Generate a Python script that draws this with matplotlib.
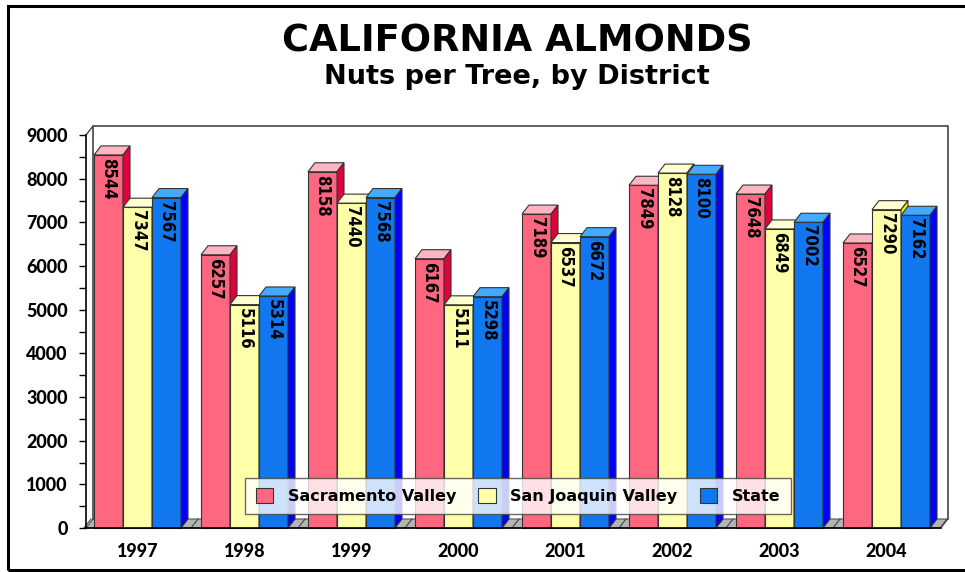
import numpy as np
import matplotlib
matplotlib.use("Agg")
import matplotlib.pyplot as plt
from matplotlib.patches import Polygon, Patch, Rectangle

# data
years = ["1997", "1998", "1999", "2000", "2001", "2002", "2003", "2004"]
sacramento = [8544, 6257, 8158, 6167, 7189, 7849, 7648, 6527]
san_joaquin = [7347, 5116, 7440, 5111, 6537, 8128, 6849, 7290]
state = [7567, 5314, 7568, 5298, 6672, 8100, 7002, 7162]
series_names = ["Sacramento Valley", "San Joaquin Valley", "State"]

# front / top / side shades for each series
palette = [
    ("#FF6680", "#FFB6C2", "#E0003C"),
    ("#FFFFAA", "#FFFFD2", "#F0F000"),
    ("#1177EE", "#44AAFF", "#0000FF"),
]
EDGE = "#333333"
FONT = ["Lato", "DejaVu Sans"]
WIDE = ["DejaVu Sans"]

W, H = 965, 572
BAR_W = 29 / 107
DEPTH_PX = (7, 9)


def draw_bar3d(ax, x, h, w, ddx, ddy, colors):
    front, top, side = colors
    ax.add_patch(Polygon([(x, 0), (x + w, 0), (x + w, h), (x, h)], closed=True,
                         facecolor=front, edgecolor=EDGE, lw=0.8, zorder=2, clip_on=False))
    ax.add_patch(Polygon([(x, h), (x + w, h), (x + w + ddx, h + ddy), (x + ddx, h + ddy)],
                         closed=True, facecolor=top, edgecolor=EDGE, lw=0.8, zorder=2, clip_on=False))
    ax.add_patch(Polygon([(x + w, 0), (x + w + ddx, ddy), (x + w + ddx, h + ddy), (x + w, h)],
                         closed=True, facecolor=side, edgecolor=EDGE, lw=0.8, zorder=2, clip_on=False))


def main():
    fig = plt.figure(figsize=(W / 100, H / 100), dpi=100)
    ax = fig.add_axes([86 / W, 1 - 528 / H, (941 - 86) / W, (528 - 135) / H])
    xmin, xmax = (86 - 137.5) / 107, (941 - 137.5) / 107
    ymax = 9000
    ax.set_xlim(xmin, xmax)
    ax.set_ylim(0, ymax)
    ax.patch.set_alpha(0)

    px_x = (xmax - xmin) / ax.bbox.width
    px_y = ymax / ax.bbox.height
    ddx, ddy = DEPTH_PX[0] * px_x, DEPTH_PX[1] * px_y

    # floor and back wall
    ax.add_patch(Polygon([(xmin, 0), (xmax, 0), (xmax + ddx, ddy), (xmin + ddx, ddy)],
                         closed=True, facecolor="#B4B4B4", edgecolor="#555555", lw=0.8,
                         zorder=1, clip_on=False))
    for b in np.arange(-0.5, len(years) + 0.5, 1.0):
        ax.plot([b, b + ddx], [0, ddy], color="#444444", lw=0.8, zorder=1, clip_on=False)
    ax.plot([xmin + ddx, xmin + ddx, xmax + ddx, xmax + ddx], [ddy, ymax + ddy, ymax + ddy, ddy],
            color="#444444", lw=1.2, zorder=1, clip_on=False)
    ax.plot([xmin, xmin + ddx], [ymax, ymax + ddy], color="#444444", lw=1.0, zorder=1, clip_on=False)

    all_series = [sacramento, san_joaquin, state]
    for i in range(len(years)):
        for j, vals in enumerate(all_series):
            x = i - 1.5 * BAR_W + j * BAR_W
            h = vals[i]
            draw_bar3d(ax, x, h, BAR_W, ddx, ddy, palette[j])
            ax.text(x + BAR_W / 2, h - 3 * px_y, str(h), rotation=270, ha="center", va="top",
                    fontsize=12, fontweight="bold", fontstretch="condensed",
                    family=["DejaVu Sans"], zorder=3)

    for s in ["top", "right"]:
        ax.spines[s].set_visible(False)
    ax.spines["left"].set_linewidth(1.2)
    ax.spines["bottom"].set_linewidth(1.2)
    ax.spines["left"].set_zorder(4)

    ax.set_yticks(np.arange(0, 9001, 1000))
    ax.set_yticks(np.arange(500, 9000, 1000), minor=True)
    ax.tick_params(axis="y", which="both", direction="out", length=5, width=1, pad=8)
    ax.set_yticklabels([str(v) for v in range(0, 9001, 1000)], fontsize=13,
                       fontweight="black", family=FONT)

    ax.set_xticks(range(len(years)))
    ax.set_xticklabels(years, fontsize=13, fontweight="black", family=FONT)
    ax.tick_params(axis="x", direction="in", length=8, width=0.8, pad=11)

    fig.text(517 / W, 1 - 52 / H, "CALIFORNIA ALMONDS", ha="center", va="baseline",
             fontsize=26.5, fontweight="bold", family=WIDE)
    fig.text(517 / W, 1 - 84 / H, "Nuts per Tree, by District", ha="center", va="baseline",
             fontsize=19.5, fontweight="bold", family=WIDE)

    handles = [Patch(facecolor=c[0], edgecolor=EDGE, lw=0.8) for c in palette]
    leg = fig.legend(handles, series_names, ncol=3, loc="center",
                     bbox_to_anchor=(518 / W, 1 - 496 / H), frameon=True, fancybox=False,
                     edgecolor="#444444", handlelength=1.1, handleheight=1.1,
                     columnspacing=1.4, handletextpad=0.9, borderpad=0.65,
                     prop={"family": WIDE, "weight": "bold", "size": 11.5})
    leg.get_frame().set_linewidth(1.0)

    fig.patches.append(Rectangle((8 / W, 1 - 570 / H), 1.0, (570 - 6) / H, transform=fig.transFigure,
                                 fill=False, edgecolor="black", lw=2.2))

    fig.savefig("out.png", dpi=100)
    plt.close(fig)


if __name__ == "__main__":
    main()
